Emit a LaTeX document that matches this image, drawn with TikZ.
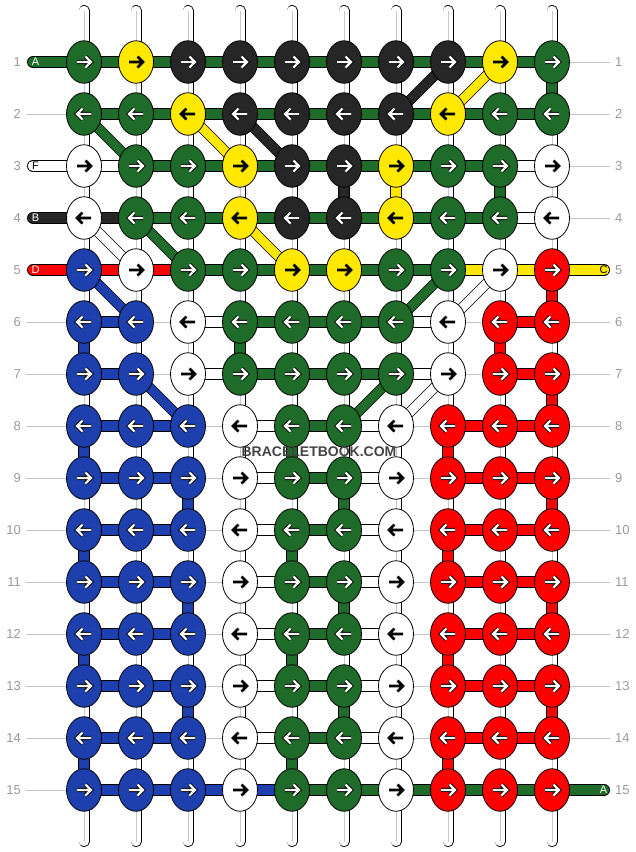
\documentclass[tikz,border=0pt]{standalone}
\usepackage{fontspec}
\setmainfont{Liberation Sans}
\usetikzlibrary{shapes.geometric}
\definecolor{cG}{RGB}{31,107,41}
\definecolor{cY}{RGB}{255,232,0}
\definecolor{cK}{RGB}{38,38,38}
\definecolor{cB}{RGB}{30,64,175}
\definecolor{cR}{RGB}{255,0,0}
\definecolor{cW}{RGB}{255,255,255}
\definecolor{numgray}{RGB}{155,155,155}
\definecolor{linegray}{RGB}{195,195,195}
\definecolor{tubegray}{RGB}{200,200,200}
\definecolor{wmark}{RGB}{68,68,68}
\pgfdeclarelayer{grid}
\pgfdeclarelayer{tubes}
\pgfdeclarelayer{vbars}
\pgfdeclarelayer{bars}
\pgfsetlayers{grid,tubes,vbars,bars,main}
\newcommand\karrowlight[2]{\draw[warr] (#1.center) ++({-7*#2},0) -- ++({14*#2},0) ++({-5.5*#2},-5.5) -- ++({5.5*#2},5.5) -- ++({-5.5*#2},5.5);}
\newcommand\karrowdark[2]{\draw[barr] (#1.center) ++({-7*#2},0) -- ++({14*#2},0) ++({-5.5*#2},-5.5) -- ++({5.5*#2},5.5) -- ++({-5.5*#2},5.5);}
\begin{document}
\begin{tikzpicture}[x=1pt,y=-1pt,
  knot/.style={ellipse, draw=black, line width=0.8pt, minimum width=35pt, minimum height=42.5pt, inner sep=0pt},
  tubeout/.style={line width=11pt, line cap=round, draw=black},
  tubein/.style={line width=9.4pt, line cap=round, draw=white},
  tubemid/.style={line width=0.9pt, draw=tubegray},
  vbar/.style={line width=10pt, preaction={draw=black, line width=11.4pt}},
  hbar/.style={line width=10.6pt, preaction={draw=black, line width=12pt}},
  labbar/.style={line width=10.6pt, line cap=round, preaction={draw=black, line width=12pt, line cap=round}},
  dbar/.style={line width=9pt, preaction={draw=black, line width=10.4pt}},
  gridline/.style={draw=linegray, line width=0.8pt},
  rownum/.style={font=\fontsize{13}{15}\selectfont, text=numgray, inner sep=0pt},
  lablet/.style={font=\fontsize{11}{13}\selectfont, inner sep=0pt},
  warr/.style={draw=white, line width=2.3pt, line join=miter, preaction={draw=black, line width=4.1pt, line join=miter}},
  barr/.style={draw=black, line width=2.7pt, line join=miter},
]
\useasboundingbox (0,0) rectangle (636,852);
\begin{pgfonlayer}{grid}
\fill[white] (0,0) rectangle (636,852);
\end{pgfonlayer}

% knots
\foreach \rr/\cols in {
 1/{G,Y,K,K,K,K,K,K,Y,G},
 2/{G,G,Y,K,K,K,K,Y,G,G},
 3/{W,G,G,Y,K,K,Y,G,G,W},
 4/{W,G,G,Y,K,K,Y,G,G,W},
 5/{B,W,G,G,Y,Y,G,G,W,R},
 6/{B,B,W,G,G,G,G,W,R,R},
 7/{B,B,W,G,G,G,G,W,R,R},
 8/{B,B,B,W,G,G,W,R,R,R},
 9/{B,B,B,W,G,G,W,R,R,R},
 10/{B,B,B,W,G,G,W,R,R,R},
 11/{B,B,B,W,G,G,W,R,R,R},
 12/{B,B,B,W,G,G,W,R,R,R},
 13/{B,B,B,W,G,G,W,R,R,R},
 14/{B,B,B,W,G,G,W,R,R,R},
 15/{B,B,B,W,G,G,W,R,R,R}}{
  \pgfmathsetmacro\dd{1-2*mod(\rr+1,2)}
  \foreach \kc [count=\cc] in \cols {
    \node[knot, fill=c\kc] (k-\rr-\cc) at ({32+52*\cc},{10+52*\rr}) {};
    \if\kc Y\relax\karrowdark{k-\rr-\cc}{\dd}\else
      \if\kc W\relax\karrowdark{k-\rr-\cc}{\dd}\else
        \karrowlight{k-\rr-\cc}{\dd}\fi\fi
  }
}

% row numbers and guide lines
\foreach \rr in {1,...,15}{
  \node[rownum, anchor=east] (ln-\rr) at (21,{10+52*\rr}) {\rr};
  \node[rownum, anchor=west] (rn-\rr) at (615,{10+52*\rr}) {\rr};
  \begin{pgfonlayer}{grid}
  \draw[gridline] ([xshift=5pt]ln-\rr.east) -- ([xshift=-5pt]rn-\rr.west);
  \end{pgfonlayer}
}

% base strings (tubes)
\begin{pgfonlayer}{tubes}
\foreach \cc in {1,...,10}{
  \coordinate (tt-\cc) at ({32+52*\cc},10.5);
  \coordinate (tb-\cc) at ({32+52*\cc},841.5);
  \draw[tubeout] (tt-\cc) -- (tb-\cc);
  \draw[tubein] (tt-\cc) -- (tb-\cc);
  \draw[tubemid] (tt-\cc) -- (tb-\cc);
}
\end{pgfonlayer}

% coloured vertical segments
\begin{pgfonlayer}{vbars}
\foreach \cc/\rr/\col in {10/1/G,6/3/K,7/3/Y,9/3/G,10/5/R,1/6/B,4/6/G,9/6/R,10/7/R,
  1/8/B,1/10/B,1/12/B,1/14/B,3/9/B,3/11/B,3/13/B,
  5/8/G,5/10/G,5/12/G,5/14/G,6/9/G,6/11/G,6/13/G,
  8/8/R,8/10/R,8/12/R,8/14/R,10/9/R,10/11/R,10/13/R}{
  \pgfmathtruncatemacro\rnext{\rr+1}
  \draw[vbar, draw=c\col] (k-\rr-\cc.center) -- (k-\rnext-\cc.center);
}
\end{pgfonlayer}

% horizontal segments, diagonals, end strings
\begin{pgfonlayer}{bars}
\foreach \rr/\gaps in {
 1/{G,G,G,G,G,G,G,G,G},
 2/{G,G,G,G,G,G,G,G,G},
 3/{W,G,G,G,G,G,G,G,W},
 4/{K,G,G,G,G,G,G,G,W},
 5/{R,R,G,G,G,G,G,Y,Y},
 6/{B,N,W,G,G,G,W,N,R},
 7/{B,N,W,G,G,G,W,N,R},
 8/{B,B,N,W,G,W,N,R,R},
 9/{B,B,N,W,G,W,N,R,R},
 10/{B,B,N,W,G,W,N,R,R},
 11/{B,B,N,W,G,W,N,R,R},
 12/{B,B,N,W,G,W,N,R,R},
 13/{B,B,N,W,G,W,N,R,R},
 14/{B,B,N,W,G,W,N,R,R},
 15/{B,B,B,B,G,G,G,G,G}}{
  \foreach \gc [count=\cc] in \gaps {
    \pgfmathtruncatemacro\cn{\cc+1}
    \if\gc N\relax\else
      \draw[hbar, draw=c\gc] (k-\rr-\cc.center) -- (k-\rr-\cn.center);
    \fi
  }
}
\foreach \ra/\ca/\rb/\cb/\col in {2/1/3/2/G,2/3/3/4/Y,2/4/3/5/K,1/8/2/7/K,1/9/2/8/Y,
  4/2/5/3/G,4/1/5/2/W,4/4/5/5/Y,5/1/6/2/B,5/8/6/7/G,5/9/6/8/W,
  7/2/8/3/B,7/7/8/6/G,7/8/8/7/W}{
  \draw[dbar, draw=c\col] (k-\ra-\ca.center) -- (k-\rb-\cb.center);
}
\foreach \rr/\col in {1/G,3/W,4/K,5/R}{
  \coordinate (ls-\rr) at (33,{10+52*\rr});
  \draw[labbar, draw=c\col] (ls-\rr) -- (k-\rr-1.center);
}
\foreach \rr/\col in {5/Y,15/G}{
  \coordinate (rs-\rr) at (604,{10+52*\rr});
  \draw[labbar, draw=c\col] (k-\rr-10.center) -- (rs-\rr);
}
\end{pgfonlayer}

% string letters
\node[lablet, text=white] (lt-1) at (35.5,62) {A};
\node[lablet, text=black] (lt-3) at (35.5,166) {F};
\node[lablet, text=white] (lt-4) at (35.5,218) {B};
\node[lablet, text=white] (lt-5) at (35.5,270) {D};
\node[lablet, text=black] (rt-5) at (603.5,270) {C};
\node[lablet, text=white] (rt-15) at (603.5,790) {A};

% watermark
\node[font=\bfseries\fontsize{14}{16}\selectfont, text=wmark, inner sep=0pt] (wm) at (319,451.5) {BRACELETBOOK.COM};
\end{tikzpicture}
\end{document}
